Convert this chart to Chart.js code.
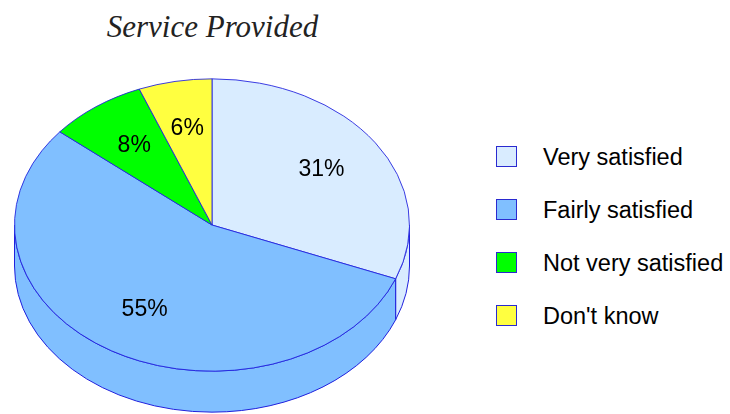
<!DOCTYPE html>
<html>
<head>
<meta charset="utf-8">
<script src="https://cdn.jsdelivr.net/npm/chart.js@4.4.1/dist/chart.umd.min.js"></script>
<style>
    html, body { margin: 0; padding: 0; background: #fff; overflow: hidden; }
    #wrap { position: relative; width: 730px; height: 414px; }
    #pieCanvas { position: absolute; left: 0; top: 0; }
    #title {
        position: absolute; left: 0; top: 9px; width: 425px; text-align: center;
        font-family: "Liberation Serif", serif; font-style: italic; font-size: 31px;
        color: #222;
    }
    #legend { position: absolute; left: 496px; top: 146px; font-family: "Liberation Sans", Arial, sans-serif; }
    .item { position: relative; height: 53px; }
    .box { position: absolute; left: 0; top: 0; width: 19px; height: 19px; border: 1px solid #2a2ad0; }
    .label { position: absolute; left: 47px; top: -2px; font-size: 23.5px; line-height: 27px; color: #000; white-space: nowrap; }
</style>
</head>
<body>
<div id="wrap">
    <div id="title">Service Provided</div>
    <canvas id="pieCanvas" width="425" height="414"></canvas>
    <div id="legend"></div>
</div>
<script>
// Chart data
const categories = ['Very satisfied', 'Fairly satisfied', 'Not very satisfied', "Don't know"];
const percentages = [31, 55, 8, 6];
const sliceColors = ['#d9ecff', '#80bfff', '#00ff00', '#ffff40'];
const edgeColor = '#2020dd';

// 3D look
const tilt = 0.74;       // vertical squash of the pie top
const depth = 41;        // height of the side wall in px
const topCenterY = 225;  // where the squashed top sits on the canvas
const labelRadius = 0.67;

// Builds the html legend from the arrays
function buildLegend() {
    const legend = document.getElementById('legend');
    categories.forEach((name, i) => {
        const item = document.createElement('div');
        item.className = 'item';
        const box = document.createElement('div');
        box.className = 'box';
        box.style.background = sliceColors[i];
        const label = document.createElement('div');
        label.className = 'label';
        label.textContent = name;
        item.appendChild(box);
        item.appendChild(label);
        legend.appendChild(item);
    });
}

function arcsOf(chart) {
    return chart.getDatasetMeta(0).data;
}

// Side wall + squash transform around the dataset drawing
const pie3d = {
    id: 'pie3d',
    beforeDatasetsDraw(chart) {
        const ctx = chart.ctx;
        const arcs = arcsOf(chart);
        if (!arcs.length) return;
        const cx = arcs[0].x, cy = arcs[0].y, r = arcs[0].outerRadius;

        // front wall, only the part between 0 and PI is visible
        ctx.save();
        ctx.lineWidth = 1;
        ctx.strokeStyle = edgeColor;
        arcs.forEach((arc, i) => {
            const a0 = Math.max(arc.startAngle, 0);
            const a1 = Math.min(arc.endAngle, Math.PI);
            if (a1 <= a0) return;
            ctx.beginPath();
            ctx.ellipse(cx, topCenterY, r, r * tilt, 0, a0, a1);
            ctx.ellipse(cx, topCenterY + depth, r, r * tilt, 0, a1, a0, true);
            ctx.closePath();
            ctx.fillStyle = sliceColors[i];
            ctx.fill();
            ctx.stroke();
        });
        ctx.restore();

        ctx.save();
        ctx.translate(cx, topCenterY);
        ctx.scale(1, tilt);
        ctx.translate(-cx, -cy);
    },
    afterDatasetsDraw(chart) {
        const ctx = chart.ctx;
        ctx.restore();
        const arcs = arcsOf(chart);
        if (!arcs.length) return;

        // percentage labels
        ctx.save();
        ctx.font = '23px "Liberation Sans", Arial, sans-serif';
        ctx.fillStyle = '#000';
        ctx.textAlign = 'center';
        ctx.textBaseline = 'middle';
        arcs.forEach((arc, i) => {
            const mid = (arc.startAngle + arc.endAngle) / 2;
            const rr = arc.outerRadius * labelRadius;
            const x = arc.x + rr * Math.cos(mid);
            const y = topCenterY + rr * tilt * Math.sin(mid);
            ctx.fillText(percentages[i] + '%', x, y);
        });
        ctx.restore();
    }
};

class ServicePie {
    constructor() {
        this.chart = null;
        this.init();
    }

    init() {
        if (typeof Chart === 'undefined') {
            console.error('Chart.js is not loaded!');
            return;
        }
        buildLegend();
        this.render();
    }

    render() {
        const ctx = document.getElementById('pieCanvas');
        const config = {
            type: 'pie',
            data: {
                labels: categories,
                datasets: [{
                    data: percentages,
                    backgroundColor: sliceColors,
                    borderColor: edgeColor,
                    borderWidth: 1,
                    borderAlign: 'center',
                    clip: false
                }]
            },
            options: {
                responsive: false,
                maintainAspectRatio: false,
                animation: false,
                events: [],
                layout: {
                    padding: { left: 14, right: 15, top: 9, bottom: 9 }
                },
                plugins: {
                    legend: { display: false },
                    tooltip: { enabled: false },
                    title: { display: false }
                }
            },
            plugins: [pie3d]
        };
        this.chart = new Chart(ctx, config);
    }
}

window.servicePie = new ServicePie();
</script>
</body>
</html>
